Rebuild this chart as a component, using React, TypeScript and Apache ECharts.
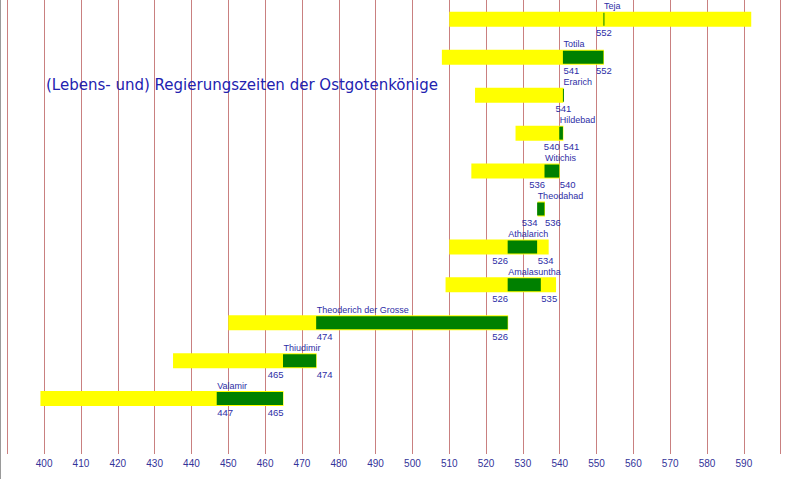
import { useEffect, useRef } from "react";
import * as echarts from "echarts";

// Rows from bottom (index 0) to top
const kings = [
  "Valamir",
  "Thiudimir",
  "Theoderich der Grosse",
  "Amalasuntha",
  "Athalarich",
  "Theodahad",
  "Witichis",
  "Hildebad",
  "Erarich",
  "Totila",
  "Teja",
];
const lifeStart = [399, 435, 450, 509, 510, 534, 516, 528, 517, 508, 510];
const lifeEnd = [465, 474, 526, 539, 537, 536, 540, 541, 541, 552, 592];
const reignStart = [447, 465, 474, 526, 526, 534, 536, 540, 541, 541, 552];
const reignEnd = [465, 474, 526, 535, 534, 536, 540, 541, 541, 552, 552];

const TITLE = "(Lebens- und) Regierungszeiten der Ostgotenkönige";
const LABEL_COLOR = "#2e2ea6";
const FONT = "'Liberation Sans', Arial, sans-serif";

export default function App() {
  const chartRef = useRef<HTMLDivElement>(null);

  useEffect(() => {
    if (!chartRef.current) return;
    const chart = echarts.init(chartRef.current, undefined, { renderer: "svg" });

    const data = kings.map((_, i) => [
      i,
      lifeStart[i],
      lifeEnd[i],
      reignStart[i],
      reignEnd[i],
    ]);

    const yearText = (x: number, y: number, text: string, align: string) => ({
      type: "text",
      style: {
        x,
        y,
        text,
        align,
        verticalAlign: "middle",
        fill: LABEL_COLOR,
        fontSize: 9.5,
        fontFamily: FONT,
      },
    });

    chart.setOption({
      animation: false,
      title: {
        text: TITLE,
        left: 45,
        top: 77,
        padding: 0,
        textStyle: {
          fontSize: 15,
          fontWeight: "normal",
          color: "#2222b0",
          fontFamily: "'DejaVu Sans', Verdana, sans-serif",
        },
      },
      grid: { left: 6.3, right: 10.3, top: 0, bottom: 25 },
      xAxis: {
        type: "value",
        min: 390,
        max: 600,
        interval: 10,
        axisLine: { show: false },
        axisTick: { show: false },
        axisLabel: {
          showMinLabel: false,
          showMaxLabel: false,
          color: "#333399",
          fontSize: 10,
          fontFamily: FONT,
          margin: 4,
        },
        splitLine: { show: true, lineStyle: { color: "#c98080", width: 1 } },
      },
      yAxis: {
        type: "value",
        min: -1.46,
        max: 10.51,
        show: false,
        splitLine: { show: false },
      },
      series: [
        {
          type: "custom",
          data,
          encode: { x: [1, 2, 3, 4], y: 0 },
          renderItem: (params: any, api: any) => {
            const row = api.value(0);
            const ls = api.value(1);
            const le = api.value(2);
            const rs = api.value(3);
            const re = api.value(4);
            const [x1, y] = api.coord([ls, row]);
            const [x2] = api.coord([le, row]);
            const [r1] = api.coord([rs, row]);
            const [r2] = api.coord([re, row]);
            const children: any[] = [
              {
                type: "rect",
                shape: { x: x1, y: y - 7.5, width: x2 - x1, height: 15 },
                style: { fill: "#ffff00" },
              },
              {
                type: "rect",
                shape: { x: r1 - 0.5, y: y - 6.5, width: Math.max(r2 - r1, 1), height: 13 },
                style: { fill: "#008000" },
              },
              {
                type: "text",
                style: {
                  x: r1,
                  y: y - 8.5,
                  text: kings[params.dataIndex],
                  align: "left",
                  verticalAlign: "bottom",
                  fill: LABEL_COLOR,
                  fontSize: 9,
                  fontFamily: FONT,
                },
              },
            ];
            const ly = y + 13.5;
            const span = re - rs;
            if (span === 0) {
              children.push(yearText(r1, ly, String(rs), "center"));
            } else if (span >= 15) {
              children.push(yearText(r1, ly, String(rs), "left"));
              children.push(yearText(r2, ly, String(re), "right"));
            } else if (span >= 10) {
              children.push(yearText(r1, ly, String(rs), "left"));
              children.push(yearText(r2, ly, String(re), "center"));
            } else {
              children.push(yearText(r1, ly, String(rs), "right"));
              children.push(yearText(r2, ly, String(re), "left"));
            }
            return { type: "group", children };
          },
        },
      ],
    });

    return () => chart.dispose();
  }, []);

  return (
    <div
      style={{
        position: "absolute",
        left: 0,
        top: 0,
        width: 791,
        height: 479,
        boxSizing: "border-box",
        borderLeft: "1px solid #9a9a9a",
        background: "#fff",
      }}
    >
      <div ref={chartRef} style={{ width: 790, height: 479 }} />
    </div>
  );
}
